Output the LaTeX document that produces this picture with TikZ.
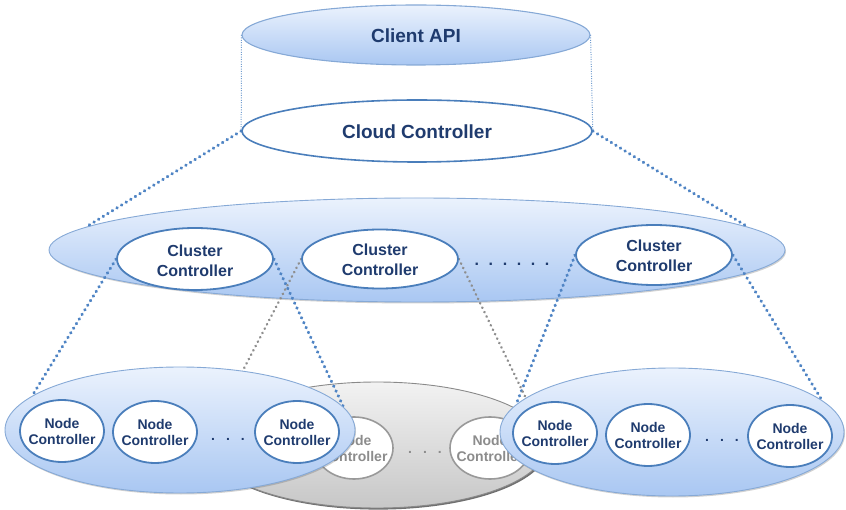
\documentclass[tikz,border=0pt]{standalone}
\usepackage{fontspec}
\setmainfont{Liberation Sans}
\usetikzlibrary{shapes.geometric,shadows}

\definecolor{navy}{HTML}{1F3B6E}
\definecolor{ncblue}{HTML}{4A7EBB}
\definecolor{grpedge}{HTML}{86A9D6}
\definecolor{grptop}{HTML}{EBF2FD}
\definecolor{grpbot}{HTML}{A9C7F2}
\definecolor{linkblue}{HTML}{4F84C4}
\definecolor{linkgray}{HTML}{8E8E8E}
\definecolor{greyedge}{HTML}{8A8A8A}
\definecolor{greytext}{HTML}{8C8C8C}

\pgfdeclarelayer{back}
\pgfdeclarelayer{links}
\pgfsetlayers{back,links,main}

\tikzset{
  oval/.style 2 args={ellipse, inner sep=0pt, minimum width=#1, minimum height=#2},
  group/.style={draw=grpedge, line width=0.9pt, top color=grptop, bottom color=grpbot,
    drop shadow={shadow xshift=1pt, shadow yshift=-1.5pt, opacity=0.3, fill=black!60}},
  greygroup/.style={draw=greyedge, line width=0.9pt, top color=black!5, bottom color=black!22,
    drop shadow={shadow xshift=1.2pt, shadow yshift=-1.6pt, opacity=0.75, fill=black!75}},
  ctrl/.style={draw=ncblue, line width=1.8pt, fill=white},
  greyctrl/.style={draw=black!40, line width=1.6pt, fill=white},
  toptext/.style={font=\bfseries\fontsize{19}{22}\selectfont, text=navy},
  cltext/.style={font=\bfseries\fontsize{16}{20}\selectfont, text=navy, align=center, inner sep=0pt},
  nctext/.style={font=\bfseries\fontsize{14}{16}\selectfont, text=navy, align=center, inner sep=0pt},
  greynctext/.style={font=\bfseries\fontsize{14}{16}\selectfont, text=greytext, align=center, inner sep=0pt},
  dotrow/.style={font=\bfseries\fontsize{16}{18}\selectfont, text=#1, inner sep=0pt},
  biglink/.style={draw=linkblue, line width=3.2pt, line cap=round, dash pattern=on 0.4pt off 5pt},
  greylink/.style={draw=linkgray, line width=2.6pt, line cap=round, dash pattern=on 0.3pt off 4.6pt},
  thinlink/.style={draw=linkblue!80, line width=1pt, dash pattern=on 1pt off 1.4pt},
}

\begin{document}
\begin{tikzpicture}[x=1pt, y=-1pt]
\useasboundingbox (0,0) rectangle (846,510);

% ---- background layer: the grey node group and the cluster band
\begin{pgfonlayer}{back}
  \node[oval={340pt}{126pt}, greygroup] (g2) at (377,445) {};
  \node[oval={78pt}{62pt}, greyctrl, label={[greynctext]center:{Node\\Controller}}] (m1) at (354,448) {};
  \node[oval={80pt}{62pt}, greyctrl, label={[greynctext]center:{Node\\Controller}}] (m2) at (490,448) {};
  \node[dotrow=greytext, font=\bfseries\fontsize{14}{16}\selectfont] (md) at (425,452) {.\hspace{11pt}.\hspace{11pt}.};
  \node[oval={736pt}{104pt}, group] (band) at (417,250) {};
\end{pgfonlayer}

% ---- top tier: client API and cloud controller
\node[oval={348pt}{60pt}, draw=grpedge, line width=1.1pt, top color=grptop, bottom color=grpbot] (api) at (416,35) {};
\node[toptext] (apit) at (416,36) {Client API};
\node[oval={350pt}{62pt}, ctrl, line width=1.6pt] (cloud) at (417,131) {};
\node[toptext] (cloudt) at (417,132) {Cloud Controller};

% ---- cluster controllers
\node[oval={156pt}{62pt}, ctrl, label={[cltext, yshift=-2pt]center:{Cluster\\Controller}}] (c1) at (195,259) {};
\node[oval={156pt}{59pt}, ctrl, label={[cltext, yshift=-1pt]center:{Cluster\\Controller}}] (c2) at (380,259) {};
\node[oval={156pt}{60pt}, ctrl, label={[cltext, yshift=-1pt]center:{Cluster\\Controller}}] (c3) at (654,255) {};
\node[dotrow=navy] (cd) at (512,264) {.\hspace{9.6pt}.\hspace{9.6pt}.\hspace{9.6pt}.\hspace{9.6pt}.\hspace{9.6pt}.};

% ---- left node group
\node[oval={350pt}{126pt}, group] (g1) at (180,430) {};
\node[oval={84pt}{62pt}, ctrl, label={[nctext]center:{Node\\Controller}}] (n11) at (62,431) {};
\node[oval={84pt}{62pt}, ctrl, label={[nctext]center:{Node\\Controller}}] (n12) at (155,432) {};
\node[oval={84pt}{62pt}, ctrl, label={[nctext]center:{Node\\Controller}}] (n13) at (297,432) {};
\node[dotrow=navy, font=\bfseries\fontsize{14}{16}\selectfont] (d1) at (228,439) {.\hspace{11pt}.\hspace{11pt}.};

% ---- right node group
\node[oval={344pt}{128pt}, group] (g3) at (672,432) {};
\node[oval={84pt}{62pt}, ctrl, label={[nctext]center:{Node\\Controller}}] (n31) at (555,433) {};
\node[oval={84pt}{62pt}, ctrl, label={[nctext]center:{Node\\Controller}}] (n32) at (648,435) {};
\node[oval={84pt}{62pt}, ctrl, label={[nctext]center:{Node\\Controller}}] (n33) at (790,436) {};
\node[dotrow=navy, font=\bfseries\fontsize{14}{16}\selectfont] (d3) at (722,440) {.\hspace{11pt}.\hspace{11pt}.};

% ---- dotted links between tiers
\begin{pgfonlayer}{links}
  \draw[thinlink] (api.west) -- (cloud.west);
  \draw[thinlink] (api.east) -- (cloud.east);
  \draw[biglink] (cloud.west) -- (band.176);
  \draw[biglink] (cloud.east) -- (band.4);
  \draw[biglink] (c1.west) -- (g1.167.5);
  \draw[biglink] (c1.east) -- (g1.8);
  \draw[biglink] (c3.west) -- (g3.170.4);
  \draw[biglink] (c3.east) -- (g3.12.4);
  \draw[greylink] (c2.west) -- (g2.174);
  \draw[greylink] (c2.east) -- (g2.7);
\end{pgfonlayer}
\end{tikzpicture}
\end{document}
